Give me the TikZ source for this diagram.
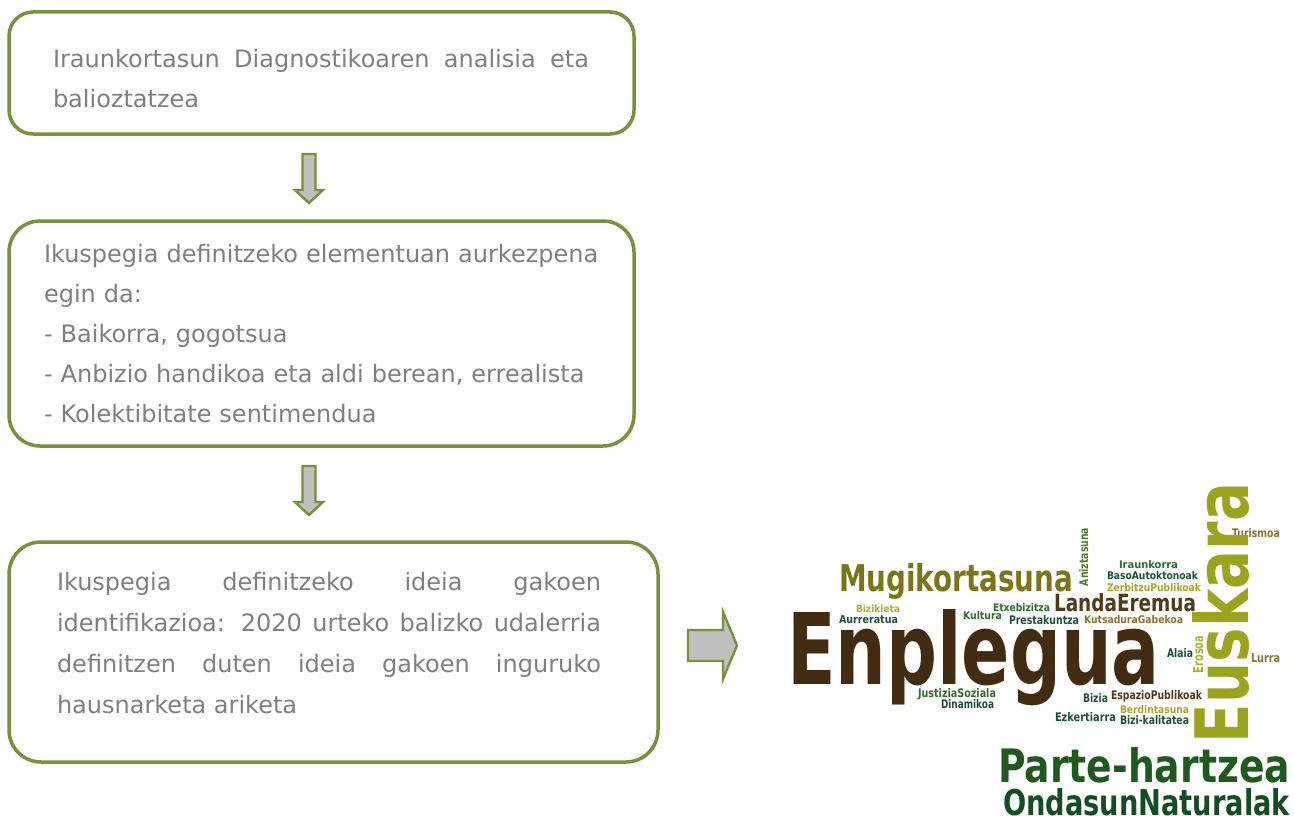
\documentclass[tikz,border=0pt]{standalone}
\usepackage{fontspec}
\setmainfont{DejaVu Sans}
\newfontfamily\cloudfont{DejaVu Sans}
\usetikzlibrary{positioning,calc}
\definecolor{olivebd}{HTML}{76923C}
\definecolor{txtgray}{HTML}{7F7F7F}
\definecolor{arrgray}{HTML}{BFBFBF}
\definecolor{cBrown}{HTML}{432B12}
\definecolor{cDkBrown}{HTML}{4D3B18}
\definecolor{cOlive}{HTML}{7C7518}
\definecolor{cYellow}{HTML}{A9A626}
\definecolor{cLightOl}{HTML}{A8B42C}
\definecolor{cTan}{HTML}{8B7230}
\definecolor{cEusk}{HTML}{9CA41E}
\definecolor{cGreen}{HTML}{2E6E2C}
\definecolor{cDkGreen}{HTML}{1C5234}
\definecolor{cMidGreen}{HTML}{4C7A2E}
\definecolor{cForest}{HTML}{1E5A1E}
\definecolor{cForestB}{HTML}{154D22}
\tolerance=10000
\hyphenpenalty=10000

\tikzset{
  stepbox/.style={draw=olivebd,line width=3.5pt,outer sep=0pt,anchor=north west},
  boxtext/.style={anchor=base west,inner sep=0pt,outer sep=0pt,text=txtgray},
  blockarrow/.style={draw=olivebd,fill=arrgray,line width=2.4pt,line join=miter},
  cloud/.style={anchor=base west,inner sep=0pt,outer sep=0pt,font=\cloudfont\bfseries},
  downarr/.pic={\draw[blockarrow] (-6.5,-24.5) -- (6.5,-24.5) -- (6.5,11.5) -- (14,11.5)
      -- (0,24.5) -- (-14,11.5) -- (-6.5,11.5) -- cycle;},
  rightarr/.pic={\draw[blockarrow] (-24.5,-15.5) -- (10.5,-15.5) -- (10.5,-33.5) -- (24.5,0)
      -- (10.5,33.5) -- (10.5,15.5) -- (-24.5,15.5) -- cycle;}
}

\begin{document}
\begin{tikzpicture}[x=1pt,y=-1pt]
  \useasboundingbox (0,0) rectangle (1294,816);
  \clip (0,0) rectangle (1294,816);

  \node[stepbox,rounded corners=24pt,minimum width=625pt,minimum height=122pt] (diag) at (9,12) {};
  \node[stepbox,rounded corners=31pt,minimum width=625pt,minimum height=225pt] (vision) at (9,221) {};
  \node[stepbox,rounded corners=32pt,minimum width=649pt,minimum height=220pt] (ideas) at (9,542) {};

  \node[boxtext,text width=536pt,align=justify,font=\fontsize{24}{40}\selectfont] (diagtxt) at (53,67)
    {Iraunkortasun Diagnostikoaren analisia eta\linebreak balioztatzea};
  \node[boxtext,text width=580pt,align=left,font=\fontsize{24}{40}\selectfont] (visiontxt) at (44,262)
    {Ikuspegia definitzeko elementuan aurkezpena\\ egin da:\\ - Baikorra, gogotsua\\
     - Anbizio handikoa eta aldi berean, errealista\\ - Kolektibitate sentimendua};
  \node[boxtext,text width=544pt,align=justify,font=\fontsize{24}{41}\selectfont] (ideastxt) at (57,590)
    {Ikuspegia definitzeko ideia gakoen\linebreak identifikazioa: 2020 urteko balizko udalerria\linebreak
     definitzen duten ideia gakoen inguruko\linebreak hausnarketa ariketa};

  \pic (arrA) at ($(diag.south)+(-12.5,44.5)$) {downarr};
  \pic (arrB) at ($(vision.south)+(-12.5,44.5)$) {downarr};
  \pic (arrC) at ($(ideas.east)+(54.5,-6.5)$) {rightarr};

  \foreach \wtxt/\wcol/\wx/\wy/\ww/\wh in {
      Enplegua/cBrown/787/684/373/75,
      Mugikortasuna/cOlive/839/591/234/28,
      LandaEremua/cDkBrown/1054/611/142/18,
      Iraunkorra/cGreen/1119/568/59/8,
      BasoAutoktonoak/cDkGreen/1107/579/91/8,
      ZerbitzuPublikoak/cYellow/1107/591/94/8,
      Turismoa/cTan/1232/537/48/9,
      Bizikleta/cLightOl/856/612/44/7.5,
      Aurreratua/cDkGreen/839/623/59/8,
      Kultura/cGreen/963/619/39/8,
      Etxebizitza/cGreen/993/611/57/8,
      Prestakuntza/cDkGreen/1009/624/70/9,
      KutsaduraGabekoa/cTan/1084/623/99/8,
      Alaia/cDkGreen/1167/657/26/9,
      Lurra/cTan/1251/662/29/9,
      JustiziaSoziala/cGreen/918/697/78/9,
      Dinamikoa/cDkGreen/941/708/53/9,
      Bizia/cDkGreen/1083/702/25/9,
      EspazioPublikoak/cDkBrown/1111/699/91/9,
      Berdintasuna/cYellow/1120/713/69/8,
      Ezkertiarra/cDkGreen/1055/721/61/9,
      Bizi-kalitatea/cDkGreen/1120/724/69/9,
      Parte-hartzea/cForest/998/782/292/35,
      OndasunNaturalak/cForestB/1003/815.5/287/27}
    \node[cloud,text=\wcol] (\wtxt) at (\wx,\wy) {\resizebox{\ww pt}{\wh pt}{\wtxt}};

  \node[cloud,text=cEusk,rotate=90] (Euskara) at (1248,743) {\resizebox{260pt}{56pt}{Euskara}};
  \node[cloud,text=cMidGreen,rotate=90] (Aniztasuna) at (1088,586) {\resizebox{58pt}{9pt}{Aniztasuna}};
  \node[cloud,text=cLightOl,rotate=90] (Erosoa) at (1203,673) {\resizebox{37pt}{10pt}{Erosoa}};
\end{tikzpicture}
\end{document}
